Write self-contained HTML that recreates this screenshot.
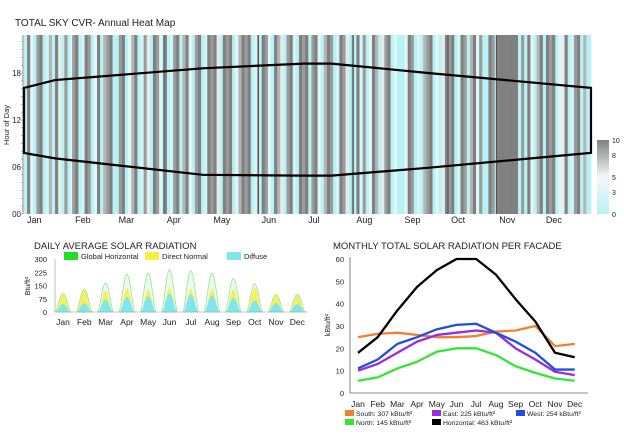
<!DOCTYPE html>
<html><head><meta charset="utf-8">
<style>
body{margin:0;background:#fff;width:624px;height:431px;overflow:hidden;font-family:"Liberation Sans",Arial,sans-serif;}
svg text{font-family:"Liberation Sans",Arial,sans-serif;fill:#222;}
</style></head>
<body>
<svg id="root" width="624" height="431" viewBox="0 0 624 431">
 <g id="hm"></g>
 <g id="dr"></g>
 <g id="fc"></g>
</svg>
<script>
// ---- Heatmap data (cloud cover digit per day, by month) ----
const cloudJan = "0099330088990022770099550088003";
const cloudFeb = "8899002299880033990077889900";
const cloudMar = "0088990033779900228855009988330";
const cloudApr = "990022889900779933008899002299";
const cloudMay = "8899550099889900337799889900228";
const cloudJun = "009988330099775500889922009988";
const cloudJul = "9900889933007799880022998855009";
const cloudAug = "0099228800339977005588990033000";
const cloudSep = "003399880022007788990033005599";
const cloudOct = "8899002299880077993388000099880";
const cloudNov = "999999999999990088009933007799";
const cloudDec = "0099889900335599002288990077000";
const cloudDays = cloudJan+cloudFeb+cloudMar+cloudApr+cloudMay+cloudJun+cloudJul+cloudAug+cloudSep+cloudOct+cloudNov+cloudDec;
const monthLabels = ["Jan","Feb","Mar","Apr","May","Jun","Jul","Aug","Sep","Oct","Nov","Dec"];
const hourTicks = [0,6,12,18];
const hourTickLabels = ["00","06","12","18"];
const sunDays = [0,20,115,180,198,260,365];
const sunsetHours = [16.1,17.1,18.6,19.2,19.2,18.0,16.1];
const sunriseHours = [7.8,7.1,5.0,4.9,4.9,5.9,7.8];
const colorbarTicks = [0,3,5,8,10];
const monthStartDays = [0,31,59,90,120,151,181,212,243,273,304,334];

// ---- Daily radiation data ----
const globalPeak = [105,130,165,215,220,240,235,220,190,160,100,100];
const directPeak = [105,130,120,135,125,135,130,130,130,140,100,95];
const diffusePeak = [45,50,70,85,90,105,100,95,80,65,50,45];
const radTicks = [0,75,150,225,300];

// ---- Facade data ----
const facadeMonths = ["Jan","Feb","Mar","Apr","May","Jun","Jul","Aug","Sep","Oct","Nov","Dec"];
const south = [25,26.5,27,26,25,25,25.5,27.5,28,30,21,22];
const west = [11,15,22,25,28.5,30.5,31,27,23,18,10.5,10.5];
const east = [10,13,18,23,26,27,28,27,20,15,9.5,8];
const north = [5.5,7,11,14,18.5,20,20,17,12,9,6.5,5.5];
const horizontal = [18,25,37,47.5,55,60,60,53,42,32,18,16];
const facadeTicks = [0,10,20,30,40,50,60];

const NS="http://www.w3.org/2000/svg";
function mk(tag,attrs,parent,txt){const e=document.createElementNS(NS,tag);for(const k in attrs)e.setAttribute(k,attrs[k]);if(txt!==undefined)e.textContent=txt;parent.appendChild(e);return e;}
function lerp(a,b,t){return a+(b-a)*t;}
function cc(v){
  const c0=[184,242,246],c1=[246,248,248],c2=[128,128,128];
  let r;if(v<=5){const t=v/5;r=c0.map((x,i)=>lerp(x,c1[i],t));}else{const t=(v-5)/5;r=c1.map((x,i)=>lerp(x,c2[i],t));}
  return "rgb("+r.map(Math.round).join(",")+")";
}

// ===== HEATMAP =====
const hm=document.getElementById('hm');
const X0=24,X1=591,Y0=214,YT=35;
const dx=d=>X0+(X1-X0)*d/365;
const hy=h=>Y0-h*(Y0-73)/18;
let t=mk('text',{x:15,y:26,'font-size':10},hm,"TOTAL SKY CVR- Annual Heat Map");

for(let d=0;d<365;d++){
  const ch=cloudDays[d]||"0";
  const v=(+ch)*10/9;
  const r=mk('rect',{x:dx(d).toFixed(2),y:YT,width:((X1-X0)/365+0.3).toFixed(2),height:Y0-YT,fill:cc(v)},hm);
  
  
}
[3,5,7,9,10].forEach(m=>{const l=mk('line',{x1:dx(monthStartDays[m]),x2:dx(monthStartDays[m]),y1:YT,y2:Y0,stroke:'#333','stroke-width':0.7},hm);
 });
mk('line',{x1:X0-1,x2:X0-1,y1:YT,y2:Y0,stroke:'#666','stroke-width':0.8},hm);
for(let h=0;h<=22;h++){mk('line',{x1:X0-3,x2:X0-1,y1:hy(h),y2:hy(h),stroke:'#888','stroke-width':0.6},hm);}
hourTicks.forEach((h,i)=>{const tx=mk('text',{x:X0-3,y:hy(h)+3,'font-size':8,'text-anchor':'end'},hm,hourTickLabels[i]);
 });
t=mk('text',{x:0,y:0,'font-size':7.5,transform:'translate(9,125) rotate(-90)','text-anchor':'middle'},hm,"Hour of Day");

monthLabels.forEach((m,i)=>{const tx=mk('text',{x:dx(monthStartDays[i])+3,y:223,'font-size':9},hm,m);
 });
let pts=sunDays.map((d,i)=>dx(d)+","+hy(sunsetHours[i]));
pts=pts.concat(sunDays.slice().reverse().map((d,j)=>dx(d)+","+hy(sunriseHours[sunDays.length-1-j])));
const pg=mk('polygon',{points:pts.join(" "),fill:'none',stroke:'#000','stroke-width':2.2},hm);

const defs=mk('defs',{},hm);
const lg=mk('linearGradient',{id:'cb',x1:0,y1:1,x2:0,y2:0},defs);
[0,2.5,5,7.5,10].forEach(v=>mk('stop',{offset:v/10,'stop-color':cc(v)},lg));
const cb=mk('rect',{x:597,y:140,width:12,height:74,fill:'url(#cb)'},hm);

colorbarTicks.forEach(v=>{const tx=mk('text',{x:612,y:214-v*7.4+3,'font-size':7},hm,v);
 });

// ===== DAILY RADIATION =====
const dr=document.getElementById('dr');
const RX0=55,RX1=308,RY0=312,RYT=259;
const ry=v=>RY0-v*(RY0-RYT)/300;
const rcx=i=>63+i*21.3;
t=mk('text',{x:34,y:249,'font-size':9.5},dr,"DAILY AVERAGE SOLAR RADIATION");

function hump(cx,peak,w){let p=[];for(let k=0;k<=16;k++){const u=k/16;const x=cx-w/2+u*w;const y=ry(peak*Math.pow(Math.sin(Math.PI*u),1.3));p.push(x.toFixed(1)+","+y.toFixed(1));}return p;}
globalPeak.forEach((g,i)=>{
  const cx=rcx(i);
  const gp=mk('polygon',{points:hump(cx,g,15).join(" "),fill:'#eafbea',stroke:'#8fe08f','stroke-width':0.7},dr);
  
  const dp=mk('polygon',{points:hump(cx,directPeak[i],13).join(" "),fill:'#f5f060'},dr);
  
  const fp=mk('polygon',{points:hump(cx,diffusePeak[i],14).join(" "),fill:'#7fe6f0'},dr);
  
  const tx=mk('text',{x:cx,y:325,'font-size':8.5,'text-anchor':'middle'},dr,monthLabels[i]);
  
});
mk('line',{x1:RX0,x2:RX0,y1:RYT,y2:RY0,stroke:'#999','stroke-width':0.6},dr);
mk('line',{x1:RX0,x2:RX1,y1:RY0,y2:RY0,stroke:'#999','stroke-width':0.6},dr);
radTicks.forEach(v=>{const tx=mk('text',{x:47,y:ry(v)+3,'font-size':7.5,'text-anchor':'end'},dr,v);
 });
t=mk('text',{x:0,y:0,'font-size':7,transform:'translate(30,286) rotate(-90)','text-anchor':'middle'},dr,"Btu/ft²");

[["Global Horizontal","#22dd22",64],["Direct Normal","#f5f040",145],["Diffuse","#7fe6f0",227]].forEach(L=>{
 const r=mk('rect',{x:L[2],y:252,width:14,height:8,fill:L[1]},dr);
 
 const tx=mk('text',{x:L[2]+17,y:259,'font-size':7.5},dr,L[0]);
 });

// ===== FACADE =====
const fc=document.getElementById('fc');
const FX0=350,FY0=393,FYT=259;
const fy=v=>FY0-v*(FY0-FYT)/60;
const fx=i=>358+i*19.7;
t=mk('text',{x:333,y:249,'font-size':9.5},fc,"MONTHLY TOTAL SOLAR RADIATION PER FACADE");

mk('line',{x1:FX0,x2:FX0,y1:FYT-2,y2:FY0,stroke:'#666','stroke-width':0.8},fc);
mk('line',{x1:FX0,x2:588,y1:FY0,y2:FY0,stroke:'#666','stroke-width':0.8},fc);
facadeTicks.forEach(v=>{const tx=mk('text',{x:344,y:fy(v)+3,'font-size':7.5,'text-anchor':'end'},fc,v);
 });
facadeMonths.forEach((m,i)=>{const tx=mk('text',{x:fx(i),y:407,'font-size':8.5,'text-anchor':'middle'},fc,m);
 });
t=mk('text',{x:0,y:0,'font-size':7,transform:'translate(330,325) rotate(-90)','text-anchor':'middle'},fc,"kBtu/ft²");

const series=[["south",south,"#f08030"],["north",north,"#33e633"],["east",east,"#9a2be0"],["west",west,"#1f4fe0"],["horizontal",horizontal,"#000"]];
series.forEach(s=>{const p=mk('polyline',{points:s[1].map((v,i)=>fx(i)+","+fy(v)).join(" "),fill:'none',stroke:s[2],'stroke-width':2.3,'stroke-linejoin':'round'},fc);
 });
[["South: 307 kBtu/ft²","#f08030",345,411],["East: 225 kBtu/ft²","#9a2be0",432,411],["West: 254 kBtu/ft²","#1f4fe0",516,411],
 ["North: 145 kBtu/ft²","#33e633",345,420],["Horizontal: 463 kBtu/ft²","#000",432,420]].forEach(L=>{
 const r=mk('rect',{x:L[2],y:L[3]-1,width:9,height:6,fill:L[1]},fc);
 
 const tx=mk('text',{x:L[2]+11,y:L[3]+5,'font-size':6.8},fc,L[0]);
 });
</script>
</body></html>
